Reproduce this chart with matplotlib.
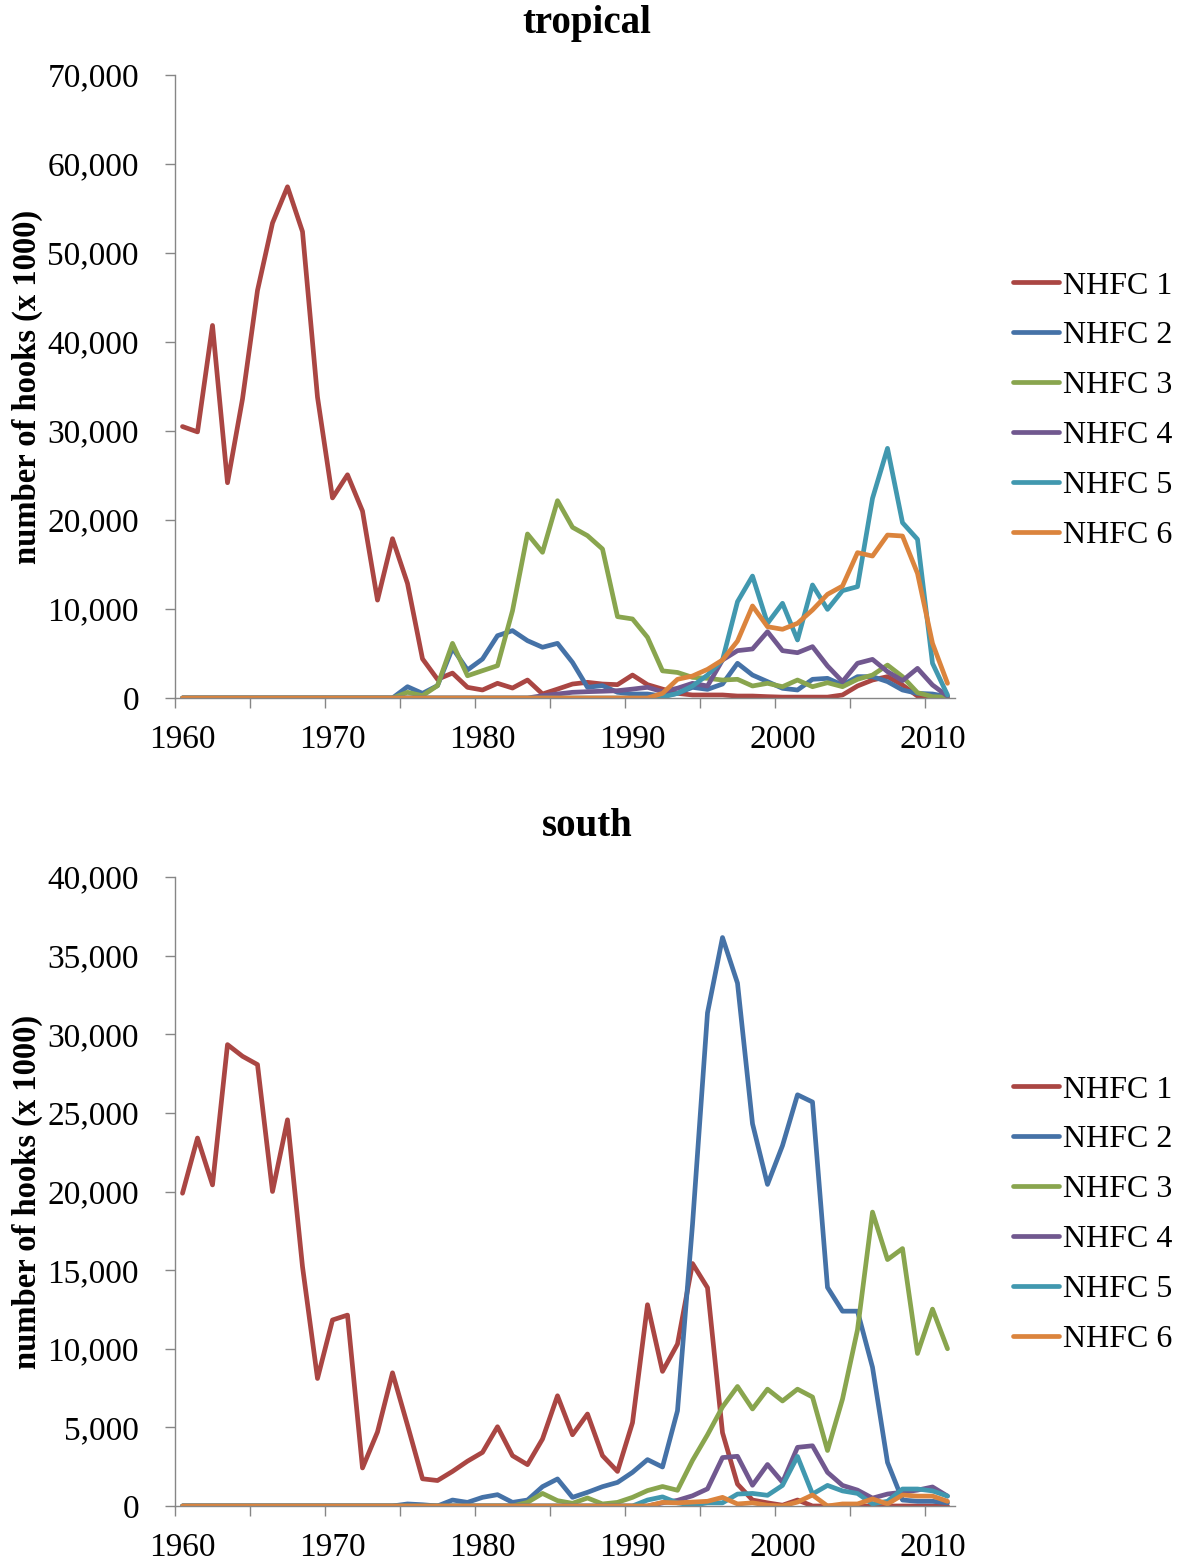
import matplotlib
matplotlib.use("Agg")
import matplotlib.pyplot as plt
from matplotlib.ticker import FuncFormatter, MultipleLocator, FixedLocator

plt.rcParams['font.family'] = ['Liberation Serif', 'DejaVu Serif']

years = list(range(1960, 2012))
series_names = ["NHFC 1", "NHFC 2", "NHFC 3", "NHFC 4", "NHFC 5", "NHFC 6"]
series_colors = ["#AA4643", "#4572A7", "#89A54E", "#71588F", "#4198AF", "#DB843D"]

# ---- tropical region, hooks (x 1000) ----
trop_nhfc1 = [30500, 29900, 41860, 24190, 33600, 45800, 53370, 57440, 52400, 33800,
              22480, 25080, 21000, 11000, 17900, 12870, 4400, 2100, 2800, 1200,
              900, 1650, 1120, 2020, 450, 1000, 1570, 1760, 1570, 1500,
              2580, 1500, 1000, 520, 340, 340, 340, 220, 220, 150,
              100, 100, 100, 100, 340, 1350, 2020, 2400, 1460, 220,
              0, 0]
trop_nhfc2 = [0] * 15 + [1270, 520, 1390, 5600, 3150,
              4380, 7000, 7570, 6440, 5700, 6140, 4000, 1200, 1390, 640,
              450, 450, 220, 520, 1200, 970, 1570, 3900, 2580, 1840,
              1090, 900, 2100, 2210, 1460, 2400, 2400, 1840, 900, 520,
              450, 150]
trop_nhfc3 = [0] * 15 + [640, 260, 1390, 6140, 2500,
              3070, 3630, 9800, 18430, 16370, 22170, 19180, 18240, 16740, 9140,
              8880, 6820, 3050, 2870, 2320, 2210, 2020, 2100, 1350, 1650,
              1270, 2020, 1270, 1720, 1270, 2100, 2580, 3700, 2400, 600,
              150, 75]
trop_nhfc4 = [0] * 24 + [260, 450, 640, 710, 760, 820,
              1000, 1200, 710, 1100, 1650, 1350, 4270, 5320, 5510, 7450,
              5320, 5090, 5770, 3600, 1840, 3900, 4340, 2960, 1950, 3330,
              1460, 220]
trop_nhfc5 = [0] * 32 + [100, 520, 1350, 2580, 4270, 10820, 13700, 8390,
              10640, 6520, 12700, 9960, 12060, 12510, 22430, 28050, 19700, 17830,
              3900, 340]
trop_nhfc6 = [0] * 32 + [520, 2100, 2470, 3220, 4270, 6400, 10340, 8010,
              7720, 8390, 9890, 11650, 12580, 16330, 15950, 18310, 18200, 14000,
              6140, 1650]

# ---- south region, hooks (x 1000) ----
south_nhfc1 = [19890, 23400, 20420, 29340, 28600, 28070, 20000, 24560, 15220, 8110,
               11830, 12140, 2420, 4710, 8470, 5140, 1730, 1620, 2200, 2850,
               3410, 5040, 3200, 2630, 4260, 7010, 4530, 5850, 3200, 2200,
               5300, 12800, 8560, 10300, 15420, 13880, 4660, 1390, 380, 200,
               50, 380] + [0] * 10
south_nhfc2 = [0] * 15 + [130, 80, 0, 380, 230,
               550, 720, 230, 380, 1230, 1720, 550, 870, 1230, 1500,
               2140, 2950, 2480, 6060, 17900, 31360, 36150, 33250, 24310, 20450,
               22920, 26150, 25690, 13900, 12390, 12390, 8820, 2770, 380, 300,
               300, 200]
south_nhfc3 = [0] * 23 + [230, 800, 340, 170, 510, 130, 230,
               550, 980, 1240, 1000, 2900, 4530, 6300, 7600, 6170, 7430,
               6680, 7430, 6930, 3530, 6800, 11210, 18690, 15670, 16370, 9700,
               12520, 10000]
south_nhfc4 = [0] * 32 + [200, 360, 650, 1090, 3080, 3160, 1320, 2640,
               1510, 3730, 3830, 2140, 1310, 1010, 500, 760, 880, 1010,
               1210, 630]
south_nhfc5 = [0] * 31 + [380, 580, 200, 50, 200, 200, 760, 800, 680,
               1310, 3150, 760, 1310, 960, 800, 130, 300, 1080, 1080,
               960, 630]
south_nhfc6 = [0] * 32 + [230, 200, 250, 300, 550, 130, 200, 50,
               0, 250, 700, 0, 130, 130, 450, 130, 700, 630,
               630, 300]

tropical = [trop_nhfc1, trop_nhfc2, trop_nhfc3, trop_nhfc4, trop_nhfc5, trop_nhfc6]
south = [south_nhfc1, south_nhfc2, south_nhfc3, south_nhfc4, south_nhfc5, south_nhfc6]

W, H = 1188, 1559
fig = plt.figure(figsize=(W / 100, H / 100), dpi=100)
fig.patch.set_facecolor("white")

axis_grey = "#868686"
label_years = [1960, 1970, 1980, 1990, 2000, 2010]
tick_bounds = [1959.5 + 5 * k for k in range(11)]


def thousands(v, _pos):
    return f"{int(round(v)):,}"


def draw_panel(rect, data, ymax, ystep, title, title_y, legend_y):
    ax = fig.add_axes(rect)
    for vals, name, col in zip(data, series_names, series_colors):
        ax.plot(years, vals, color=col, lw=3.4, label=name,
                solid_joinstyle="round", solid_capstyle="round")
    ax.set_xlim(1959.5, 2011.5)
    ax.set_ylim(0, ymax)
    for side in ("top", "right"):
        ax.spines[side].set_visible(False)
    for side in ("left", "bottom"):
        ax.spines[side].set_color(axis_grey)
        ax.spines[side].set_linewidth(1.0)
    ax.yaxis.set_major_locator(MultipleLocator(ystep))
    ax.yaxis.set_major_formatter(FuncFormatter(thousands))
    ax.tick_params(axis="y", direction="out", length=7, width=1.0,
                   color=axis_grey, labelsize=24, pad=19)
    ax.xaxis.set_major_locator(FixedLocator(label_years))
    ax.xaxis.set_minor_locator(FixedLocator(tick_bounds))
    ax.tick_params(axis="x", which="major", length=0, labelsize=24, pad=19)
    ax.tick_params(axis="x", which="minor", direction="out", length=7,
                   width=1.0, color=axis_grey)

    fig.text(587 / W, 1 - title_y / H, title, ha="center", va="center",
             fontsize=28, fontweight="bold")
    ymid = rect[1] + rect[3] / 2
    fig.text(27 / W, ymid, "number of hooks (x 1000)", rotation=90,
             ha="center", va="center", fontsize=23.5, fontweight="bold")
    leg = ax.legend(loc="center left", bbox_to_anchor=(1013 / W, 1 - legend_y / H),
                    bbox_transform=fig.transFigure, frameon=False, fontsize=23,
                    handlelength=1.45, handletextpad=0.12, labelspacing=0.64,
                    borderpad=0, borderaxespad=0)
    for line in leg.get_lines():
        line.set_linewidth(3.4)
        line.set_solid_capstyle("round")
    return ax


draw_panel([175 / W, 1 - 698 / H, 780 / W, 623 / H], tropical, 70000, 10000,
           "tropical", 24, 410.5)
draw_panel([175 / W, 1 - 1506 / H, 780 / W, 629 / H], south, 40000, 5000,
           "south", 826, 1214.5)

fig.savefig("out.png", dpi=100, facecolor="white")
